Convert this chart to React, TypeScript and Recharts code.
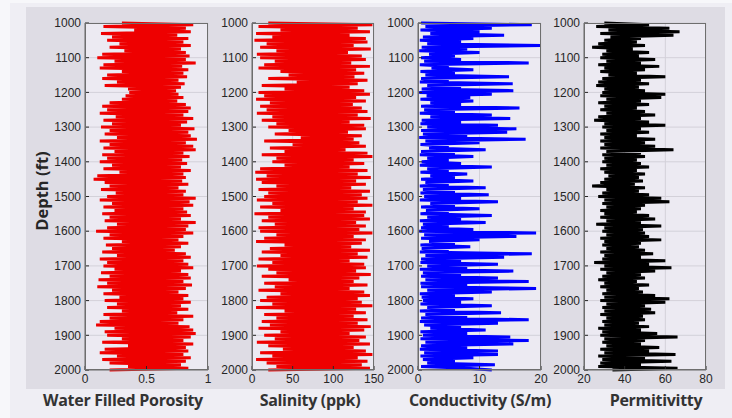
import { LineChart, Line, XAxis, YAxis, CartesianGrid } from 'recharts';

const depths = [
  1000, 1005, 1010, 1015, 1020, 1025, 1030, 1035, 1040, 1045,
  1050, 1055, 1060, 1065, 1070, 1075, 1080, 1085, 1090, 1095,
  1100, 1105, 1110, 1115, 1120, 1125, 1130, 1135, 1140, 1145,
  1150, 1155, 1160, 1165, 1170, 1175, 1180, 1185, 1190, 1195,
  1200, 1205, 1210, 1215, 1220, 1225, 1230, 1235, 1240, 1245,
  1250, 1255, 1260, 1265, 1270, 1275, 1280, 1285, 1290, 1295,
  1300, 1305, 1310, 1315, 1320, 1325, 1330, 1335, 1340, 1345,
  1350, 1355, 1360, 1365, 1370, 1375, 1380, 1385, 1390, 1395,
  1400, 1405, 1410, 1415, 1420, 1425, 1430, 1435, 1440, 1445,
  1450, 1455, 1460, 1465, 1470, 1475, 1480, 1485, 1490, 1495,
  1500, 1505, 1510, 1515, 1520, 1525, 1530, 1535, 1540, 1545,
  1550, 1555, 1560, 1565, 1570, 1575, 1580, 1585, 1590, 1595,
  1600, 1605, 1610, 1615, 1620, 1625, 1630, 1635, 1640, 1645,
  1650, 1655, 1660, 1665, 1670, 1675, 1680, 1685, 1690, 1695,
  1700, 1705, 1710, 1715, 1720, 1725, 1730, 1735, 1740, 1745,
  1750, 1755, 1760, 1765, 1770, 1775, 1780, 1785, 1790, 1795,
  1800, 1805, 1810, 1815, 1820, 1825, 1830, 1835, 1840, 1845,
  1850, 1855, 1860, 1865, 1870, 1875, 1880, 1885, 1890, 1895,
  1900, 1905, 1910, 1915, 1920, 1925, 1930, 1935, 1940, 1945,
  1950, 1955, 1960, 1965, 1970, 1975, 1980, 1985, 1990, 1995,
  2000,
];

const porosity = [
  0.30, 0.88, 0.15, 0.82, 0.40, 0.86, 0.13, 0.75, 0.22, 0.84,
  0.18, 0.80, 0.28, 0.86, 0.20, 0.78, 0.32, 0.82, 0.14, 0.85,
  0.10, 0.82, 0.24, 0.90, 0.15, 0.79, 0.12, 0.84, 0.30, 0.80,
  0.18, 0.83, 0.14, 0.76, 0.26, 0.81, 0.16, 0.78, 0.35, 0.74,
  0.36, 0.76, 0.33, 0.80, 0.30, 0.75, 0.20, 0.82, 0.14, 0.86,
  0.18, 0.84, 0.12, 0.80, 0.25, 0.88, 0.15, 0.83, 0.22, 0.78,
  0.13, 0.89, 0.20, 0.84, 0.16, 0.86, 0.26, 0.91, 0.12, 0.82,
  0.20, 0.88, 0.15, 0.90, 0.24, 0.80, 0.14, 0.85, 0.18, 0.79,
  0.12, 0.83, 0.22, 0.78, 0.15, 0.86, 0.28, 0.80, 0.10, 0.82,
  0.07, 0.79, 0.16, 0.84, 0.20, 0.76, 0.13, 0.82, 0.25, 0.80,
  0.18, 0.90, 0.12, 0.85, 0.22, 0.88, 0.15, 0.80, 0.24, 0.83,
  0.14, 0.86, 0.20, 0.78, 0.16, 0.90, 0.26, 0.84, 0.18, 0.82,
  0.09, 0.88, 0.20, 0.80, 0.15, 0.76, 0.30, 0.84, 0.17, 0.78,
  0.22, 0.73, 0.14, 0.82, 0.26, 0.86, 0.12, 0.80, 0.18, 0.84,
  0.15, 0.88, 0.24, 0.78, 0.13, 0.84, 0.20, 0.86, 0.11, 0.80,
  0.18, 0.87, 0.10, 0.82, 0.22, 0.76, 0.15, 0.84, 0.28, 0.80,
  0.16, 0.86, 0.26, 0.78, 0.18, 0.84, 0.30, 0.75, 0.15, 0.88,
  0.20, 0.80, 0.12, 0.76, 0.09, 0.85, 0.24, 0.88, 0.16, 0.90,
  0.18, 0.86, 0.30, 0.80, 0.14, 0.88, 0.35, 0.82, 0.16, 0.84,
  0.12, 0.80, 0.26, 0.86, 0.14, 0.82, 0.20, 0.78, 0.35, 0.84,
  0.20,
];

const salinity = [
  20, 148, 8, 130, 35, 145, 5, 120, 25, 140,
  3, 142, 18, 125, 10, 146, 30, 118, 6, 135,
  10, 140, 28, 122, 15, 145, 8, 128, 35, 138,
  45, 126, 20, 142, 55, 130, 12, 120, 40, 138,
  8, 145, 15, 128, 5, 140, 22, 124, 10, 135,
  18, 142, 6, 130, 25, 146, 12, 120, 30, 138,
  20, 140, 45, 118, 28, 135, 60, 125, 15, 132,
  50, 140, 22, 115, 40, 142, 12, 148, 30, 125,
  25, 138, 40, 120, 10, 142, 4, 130, 18, 146,
  5, 128, 12, 140, 30, 122, 8, 145, 20, 135,
  15, 142, 6, 130, 25, 148, 10, 125, 35, 140,
  3, 138, 20, 145, 12, 128, 28, 140, 8, 132,
  10, 148, 30, 125, 15, 140, 5, 135, 40, 122,
  22, 145, 12, 130, 35, 142, 8, 120, 25, 138,
  6, 140, 20, 128, 30, 146, 12, 132, 45, 125,
  15, 142, 28, 120, 8, 138, 35, 145, 18, 130,
  10, 135, 25, 148, 5, 128, 40, 140, 15, 125,
  30, 142, 12, 130, 22, 146, 8, 138, 35, 120,
  15, 140, 28, 132, 6, 145, 20, 125, 38, 140,
  10, 148, 25, 130, 5, 142, 18, 135, 30, 145,
  20,
];

const conductivity = [
  0.5, 18.5, 1.2, 12, 0.4, 10, 2, 14, 0.8, 9,
  0.3, 7, 1.5, 20.5, 0.6, 8, 0.2, 10, 1.8, 6,
  0.5, 7, 1.0, 18, 0.3, 5, 2.2, 9, 0.4, 6,
  1.2, 14.8, 0.5, 5, 0.3, 15.4, 1.5, 7, 0.6, 15.5,
  0.2, 12, 1.4, 8.5, 0.4, 9, 2, 7, 0.5, 16.5,
  1.0, 6, 0.3, 12, 2.0, 15, 0.6, 7, 0.4, 13,
  1.5, 16, 0.5, 14.5, 0.8, 8, 0.2, 17.5, 1.2, 10,
  0.4, 5, 1.8, 11, 0.5, 6, 0.3, 9, 1.5, 5,
  0.6, 7, 0.3, 12, 1.5, 5, 0.4, 8, 2.0, 6,
  0.5, 9, 1.2, 5, 0.3, 11, 0.8, 6, 0.4, 11.5,
  1.0, 7, 0.3, 13, 2.0, 6, 0.5, 10, 1.3, 5,
  0.4, 12, 1.5, 7, 0.3, 11, 0.8, 5, 0.5, 9,
  0.2, 19.2, 1.0, 16, 0.5, 10, 1.8, 6, 0.4, 8.5,
  0.6, 5, 0.3, 18.5, 1.2, 14, 0.5, 7, 0.4, 13,
  1.5, 8, 0.3, 15.5, 0.8, 7, 0.5, 13, 1.2, 18,
  0.4, 8, 0.5, 19.2, 1.5, 12, 0.3, 6, 0.6, 9,
  0.8, 7, 0.4, 12, 1.5, 6, 0.3, 13.5, 1.2, 8,
  0.5, 18, 0.3, 13, 1.0, 7, 2.0, 11, 0.4, 8,
  0.8, 15, 0.4, 18, 1.2, 15.5, 0.5, 8, 0.3, 13,
  1.0, 13, 0.4, 9, 0.8, 6, 1.5, 12.5, 0.5, 8,
  12,
];

const permittivity = [
  30, 52, 26, 62, 32, 67, 28, 64, 33, 48,
  30, 46, 27, 50, 24, 44, 31, 52, 29, 47,
  28, 55, 31, 48, 27, 57, 30, 50, 28, 46,
  32, 60, 29, 48, 27, 52, 26, 47, 30, 50,
  29, 60, 28, 58, 31, 48, 27, 52, 30, 46,
  28, 50, 31, 55, 27, 48, 25, 52, 30, 60,
  29, 48, 31, 52, 28, 46, 30, 55, 28, 50,
  30, 55, 28, 64, 31, 48, 29, 50, 30, 46,
  29, 48, 31, 52, 28, 46, 30, 50, 32, 47,
  30, 49, 28, 45, 24, 50, 31, 47, 29, 52,
  27, 58, 30, 62, 29, 50, 31, 48, 28, 46,
  30, 52, 28, 55, 31, 48, 26, 58, 30, 49,
  29, 50, 31, 52, 28, 58, 30, 48, 29, 47,
  31, 50, 28, 54, 30, 48, 29, 60, 25, 52,
  30, 63, 28, 55, 31, 48, 29, 50, 27, 46,
  30, 52, 28, 47, 31, 49, 29, 55, 30, 62,
  28, 60, 31, 50, 29, 53, 30, 55, 28, 49,
  31, 50, 29, 47, 30, 52, 27, 48, 29, 56,
  28, 66, 30, 50, 29, 48, 31, 57, 28, 52,
  30, 65, 27, 50, 29, 63, 28, 48, 27, 66,
  34,
];

const depthTicks = [1000, 1100, 1200, 1300, 1400, 1500, 1600, 1700, 1800, 1900, 2000];

const panels = [
  { title: 'Water Filled Porosity', values: porosity, color: '#ee0000', domain: [0, 1], ticks: [0, 0.5, 1], left: 85, width: 123, titleX: 123 },
  { title: 'Salinity (ppk)', values: salinity, color: '#ee0000', domain: [0, 150], ticks: [0, 50, 100, 150], left: 252, width: 122, titleX: 310 },
  { title: 'Conductivity (S/m)', values: conductivity, color: '#0000ff', domain: [0, 20], ticks: [0, 10, 20], left: 418, width: 123, titleX: 480 },
  { title: 'Permitivitty', values: permittivity, color: '#000000', domain: [20, 80], ticks: [20, 40, 60, 80], left: 584, width: 122, titleX: 656 },
];

const TOP = 23;
const BOTTOM = 370;
const AXIS_W = 45;
const RIGHT_PAD = 12;
const tickFont = { fontSize: 12, fill: '#262626', fontFamily: 'Liberation Sans, Arial, sans-serif' };

function Panel({ p }: { p: (typeof panels)[number] }) {
  const data = depths.map((d, i) => ({ depth: d, value: p.values[i] }));
  return (
    <div style={{ position: 'absolute', left: p.left - AXIS_W, top: 0 }}>
      <LineChart
        width={p.width + AXIS_W + RIGHT_PAD}
        height={BOTTOM + 25}
        data={data}
        layout="vertical"
        margin={{ top: TOP, right: RIGHT_PAD, bottom: 0, left: 0 }}
      >
        <CartesianGrid stroke="#d3d1d9" fill="#eceaf2" fillOpacity={1} />
        <XAxis
          type="number"
          domain={p.domain}
          ticks={p.ticks}
          interval={0}
          allowDataOverflow
          height={25}
          tick={tickFont}
          tickSize={-4}
          tickMargin={8}
          axisLine={{ stroke: '#6e6e6e' }}
          tickLine={{ stroke: '#262626' }}
        />
        <YAxis
          type="number"
          dataKey="depth"
          domain={[1000, 2000]}
          ticks={depthTicks}
          interval={0}
          width={AXIS_W}
          tick={tickFont}
          tickSize={-4}
          tickMargin={8}
          axisLine={{ stroke: '#6e6e6e' }}
          tickLine={{ stroke: '#262626' }}
        />
        <Line
          type="linear"
          dataKey="value"
          stroke={p.color}
          strokeWidth={3}
          dot={false}
          isAnimationActive={false}
        />
      </LineChart>
      <div
        style={{
          position: 'absolute',
          left: AXIS_W,
          top: TOP,
          width: p.width,
          height: BOTTOM - TOP,
          border: '1px solid #6e6e6e',
          boxSizing: 'border-box',
          pointerEvents: 'none',
        }}
      />
    </div>
  );
}

export default function App() {
  return (
    <div
      style={{
        position: 'fixed',
        left: 0,
        top: 0,
        width: 732,
        height: 418,
        background: '#f7f7fa',
        overflow: 'hidden',
        fontFamily: '"Open Sans", sans-serif',
      }}
    >
      <div style={{ position: 'absolute', left: 10, top: 3, width: 722, height: 415, background: '#efeef4' }} />
      <div style={{ position: 'absolute', left: 26, top: 7, width: 699, height: 382, background: '#dedce4' }} />
      {panels.map((p) => (
        <Panel key={p.title} p={p} />
      ))}
      <div
        style={{
          position: 'absolute',
          left: 41,
          top: 191,
          transform: 'translate(-50%, -50%) rotate(-90deg)',
          fontSize: 16.5,
          fontWeight: 700,
          color: '#262626',
          whiteSpace: 'nowrap',
        }}
      >
        Depth (ft)
      </div>
      {panels.map((p) => (
        <div
          key={p.title + '-t'}
          style={{
            position: 'absolute',
            left: p.titleX,
            top: 400,
            transform: 'translate(-50%, -50%)',
            fontSize: 16,
            fontWeight: 700,
            letterSpacing: -0.3,
            color: '#333333',
            whiteSpace: 'nowrap',
          }}
        >
          {p.title}
        </div>
      ))}
    </div>
  );
}
